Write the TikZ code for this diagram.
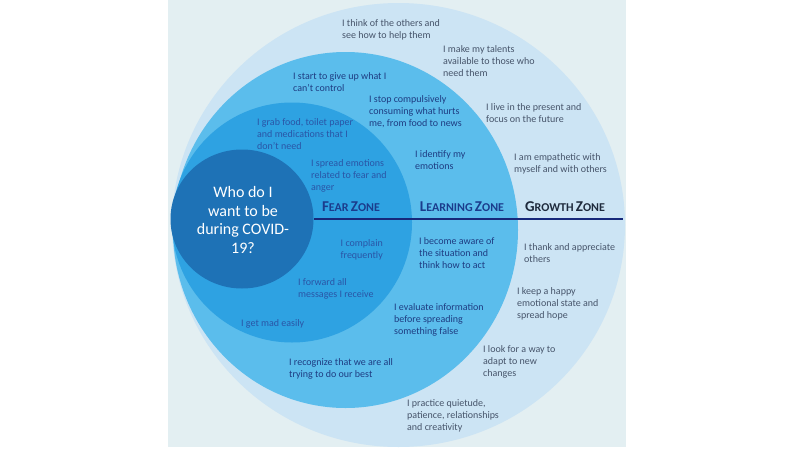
\documentclass[tikz,border=0pt]{standalone}
\usepackage{fontspec}
\setmainfont{Carlito}
\definecolor{panelc}{HTML}{E3EFF2}
\definecolor{growthc}{HTML}{CCE4F4}
\definecolor{learnc}{HTML}{5BBDEC}
\definecolor{fearc}{HTML}{2EA2E2}
\definecolor{innerc}{HTML}{1E72B6}
\definecolor{linec}{HTML}{16287A}
\definecolor{txgrowth}{HTML}{46546A}
\definecolor{txlearn}{HTML}{1E3C82}
\definecolor{txfear}{HTML}{2A55A6}
\definecolor{zonec}{HTML}{1B3C8C}
\definecolor{zonegc}{HTML}{1E2A3C}
\newcommand{\zsc}[4]{{\fontsize{15}{16}\selectfont #1}{\fontsize{12}{16}\selectfont #2} {\fontsize{15}{16}\selectfont #3}{\fontsize{12}{16}\selectfont #4}}
\begin{document}
\begin{tikzpicture}[x=1pt,y=-1pt,
  item/.style={anchor=north west,align=left,inner sep=0pt,font=\fontsize{10}{12}\selectfont},
  gtx/.style={item,text=txgrowth},
  ltx/.style={item,text=txlearn},
  ftx/.style={item,text=txfear},
  zone/.style={anchor=center,inner sep=0pt,font=\bfseries}]
\useasboundingbox (0,0) rectangle (800,450);
\fill[white] (0,0) rectangle (800,450);
\fill[panelc] (168,0) rectangle (626,447);
\begin{scope}
\clip (168,0) rectangle (626,447);
\fill[growthc] (398.5,225) ellipse [x radius=226.5, y radius=222];
\fill[learnc] (345.5,230) ellipse [x radius=172.5, y radius=178];
\fill[fearc] (292,222.5) circle [radius=120];
\fill[innerc] (242,219) ellipse [x radius=71.5, y radius=69.5];
\end{scope}
\coordinate (ls) at (314,219);
\coordinate (le) at (623,219);
\draw[linec,line width=2.6pt] (ls) -- (le);
\node[anchor=center,align=center,text=white,inner sep=0pt,font=\fontsize{16}{18.5}\selectfont] (q) at (243,220) {Who do I\\want to be\\during COVID-\\19?};
\node[zone,text=zonec] (fz) at (351,207) {\zsc{F}{EAR}{Z}{ONE}};
\node[zone,text=zonec] (lz) at (462,207) {\zsc{L}{EARNING}{Z}{ONE}};
\node[zone,text=zonegc] (gz) at (565,207) {\zsc{G}{ROWTH}{Z}{ONE}};
% growth zone
\node[gtx] (g1) at (342,19) {I think of the others and\\see how to help them};
\node[gtx] (g2) at (443,45) {I make my talents\\available to those who\\need them};
\node[gtx] (g3) at (486,103) {I live in the present and\\focus on the future};
\node[gtx] (g4) at (514,153) {I am empathetic with\\myself and with others};
\node[gtx] (g5) at (524,243) {I thank and appreciate\\others};
\node[gtx] (g6) at (517,287) {I keep a happy\\emotional state and\\spread hope};
\node[gtx] (g7) at (483,345) {I look for a way to\\adapt to new\\changes};
\node[gtx] (g8) at (407,399) {I practice quietude,\\patience, relationships\\and creativity};
% learning zone
\node[ltx] (l1) at (293,72) {I start to give up what I\\can't control};
\node[ltx] (l2) at (369,95) {I stop compulsively\\consuming what hurts\\me, from food to news};
\node[ltx] (l3) at (415,150) {I identify my\\emotions};
\node[ltx] (l4) at (419,237) {I become aware of\\the situation and\\think how to act};
\node[ltx] (l5) at (394,303) {I evaluate information\\before spreading\\something false};
\node[ltx] (l6) at (289,358) {I recognize that we are all\\trying to do our best};
% fear zone
\node[ftx] (f1) at (257,118) {I grab food, toilet paper\\and medications that I\\don't need};
\node[ftx] (f2) at (311,159) {I spread emotions\\related to fear and\\anger};
\node[ftx,anchor=north east,align=right] (f3) at (383,239) {I complain\\frequently};
\node[ftx] (f4) at (298,278) {I forward all\\messages I receive};
\node[ftx] (f5) at (241,319) {I get mad easily};
\end{tikzpicture}
\end{document}
